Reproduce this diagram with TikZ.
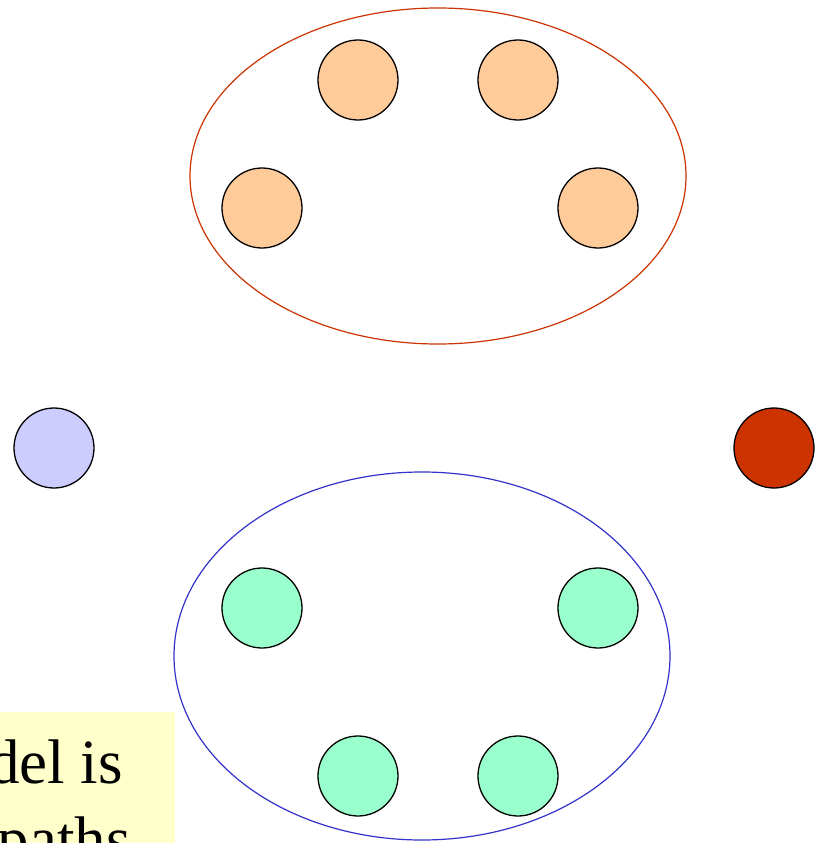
\documentclass[tikz,border=0pt]{standalone}
\usepackage{fontspec}
\setmainfont{Liberation Serif}
\definecolor{peach}{HTML}{FFCC99}
\definecolor{mint}{HTML}{99FFCC}
\definecolor{lav}{HTML}{CCCCFF}
\definecolor{rust}{HTML}{CC3300}
\definecolor{ink}{HTML}{3333CC}
\definecolor{pale}{HTML}{FFFFCC}
\begin{document}
\begin{tikzpicture}[x=1pt,y=-1pt,
  ball/.style={circle,draw=black,line width=1.3pt,minimum size=80pt,inner sep=0pt},
  note/.style={anchor=base east,inner sep=0pt,font=\fontsize{63}{70}\selectfont}]
\useasboundingbox (0,0) rectangle (819,843);
\clip (0,0) rectangle (819,843);
\fill[white] (0,0) rectangle (819,843);
% yellow note
\fill[pale] (0,712) rectangle (175,850);
\node[note] (t1) at (123,783) {del is};
\node[note] (t2) at (131,860) {paths};
% groups
\draw[rust,line width=1.2pt] (438,176) ellipse [x radius=248, y radius=168];
\draw[ink,line width=1.2pt] (422,656) ellipse [x radius=248, y radius=184];
% orange
\node[ball,fill=peach] (o1) at (358,80) {};
\node[ball,fill=peach] (o2) at (518,80) {};
\node[ball,fill=peach] (o3) at (262,208) {};
\node[ball,fill=peach] (o4) at (598,208) {};
% singles
\node[ball,fill=lav] (s1) at (54,448) {};
\node[ball,fill=rust] (s2) at (774,448) {};
% green
\node[ball,fill=mint] (g1) at (262,608) {};
\node[ball,fill=mint] (g2) at (598,608) {};
\node[ball,fill=mint] (g3) at (358,776) {};
\node[ball,fill=mint] (g4) at (518,776) {};
\end{tikzpicture}
\end{document}
